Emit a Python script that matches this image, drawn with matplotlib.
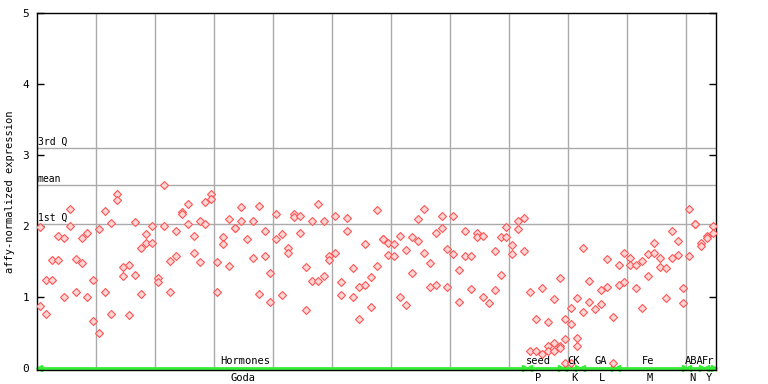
import matplotlib
matplotlib.use("Agg")
import matplotlib.pyplot as plt

# expression values per sample slot (replicates share a slot)
slots = [
    0, 0, 1, 1, 2, 2, 3, 3, 4, 4, 5, 5, 6, 6, 7, 7, 8, 8, 9, 9,
    10, 10, 11, 11, 12, 12, 13, 13, 14, 14, 15, 15, 16, 16, 17, 17, 18, 18, 19, 19,
    20, 20, 21, 21, 22, 22, 23, 23, 24, 24, 25, 25, 26, 26, 27, 27, 28, 28, 29, 29,
    30, 30, 31, 31, 32, 32, 33, 33, 34, 34, 35, 36, 36, 37, 37, 38, 38, 39, 39,
    40, 40, 41, 41, 42, 42, 43, 43, 44, 44, 45, 45, 46, 46, 47, 47, 48, 48, 49, 49,
    50, 50, 51, 51, 52, 52, 53, 53, 54, 54, 55, 55, 56, 56, 57, 57, 58, 58, 59, 59,
    60, 60, 61, 61, 62, 62, 63, 63, 64, 64, 65, 65, 66, 66, 67, 67, 68, 68, 69, 69,
    70, 70, 71, 71, 72, 72, 73, 73, 74, 74, 75, 75, 76, 77, 77, 78, 78, 79, 79,
    80, 80, 81, 81, 82, 82, 83, 83, 84, 84, 85, 85, 86, 86, 86, 87, 87, 87, 88, 88, 88,
    89, 89, 89, 90, 90, 90, 91, 91, 91, 92, 92, 93, 93, 94, 95, 95, 96, 96, 97, 97,
    98, 98, 99, 99, 100, 100, 101, 101, 102, 102, 103, 103, 104, 104, 105, 105,
    106, 106, 107, 107, 108, 108, 109, 109, 110, 110, 111, 111, 112, 112, 113, 113,
    114, 114,
]
values = [
    1.99, 0.88, 1.24, 0.76, 1.52, 1.24, 1.87, 1.52, 1.83, 1.01, 2.25, 2.00, 1.54, 1.07,
    1.83, 1.48, 1.90, 1.01, 1.25, 0.66,
    1.96, 0.49, 2.21, 1.08, 2.04, 0.76, 2.46, 2.37, 1.42, 1.30, 1.45, 0.75, 2.06, 1.31,
    1.70, 1.04, 1.89, 1.76, 2.00, 1.76,
    1.27, 1.21, 2.58, 2.00, 1.51, 1.07, 1.94, 1.58, 2.20, 2.17, 2.32, 2.03, 1.87, 1.62,
    2.08, 1.49, 2.34, 2.03, 2.45, 2.38,
    1.49, 1.07, 1.85, 1.75, 2.10, 1.44, 1.98, 1.98, 2.27, 2.07, 1.82, 2.07, 1.55, 2.28,
    1.04, 1.94, 1.58, 1.34, 0.94,
    2.18, 1.82, 1.89, 1.03, 1.70, 1.63, 2.17, 2.13, 2.14, 1.90, 1.42, 0.82, 2.07, 1.23,
    2.31, 1.23, 2.07, 1.30, 1.58, 1.52,
    2.14, 1.62, 1.21, 1.03, 2.11, 1.94, 1.41, 1.01, 1.14, 0.69, 1.75, 1.18, 1.28, 0.87,
    2.23, 1.44, 1.82, 1.82, 1.76, 1.59,
    1.75, 1.58, 1.87, 1.00, 1.66, 0.89, 1.85, 1.34, 2.10, 1.79, 2.24, 1.62, 1.48, 1.14,
    1.90, 1.18, 2.14, 1.97, 1.68, 1.14,
    2.14, 1.61, 1.38, 0.94, 1.94, 1.58, 1.58, 1.11, 1.90, 1.85, 1.87, 1.00, 0.92, 1.65,
    1.10, 1.85, 1.31, 1.99, 1.85,
    1.73, 1.61, 2.08, 1.96, 2.11, 1.65, 1.07, 0.24, 0.69, 0.24, 1.13, 0.20, 0.65, 0.32,
    0.24, 0.97, 0.35, 0.24, 1.27, 0.32, 0.29,
    0.69, 0.41, 0.08, 0.85, 0.62, 0.08, 0.99, 0.42, 0.31, 1.69, 0.79, 1.23, 0.93, 0.83,
    1.10, 0.90, 1.54, 1.14, 0.72, 0.08,
    1.46, 1.17, 1.62, 1.21, 1.56, 1.45, 1.46, 1.13, 1.51, 0.85, 1.61, 1.30, 1.76, 1.62,
    1.55, 1.42,
    1.41, 0.99, 1.94, 1.56, 1.79, 1.59, 1.13, 0.92, 2.24, 1.58, 2.03, 2.03, 1.77, 1.72,
    1.87, 1.83,
    2.00, 1.90,
]

q1, mean, q3 = 2.03, 2.58, 3.10

# group annotations along the bottom
group_names = ["Hormones", "seed", "CK", "GA", "Fe", "ABA", "Fr"]
group_pos = [34.7, 84.4, 90.3, 95.0, 103.0, 110.8, 113.2]
sub_names = ["Goda", "P", "K", "L", "M", "N", "Y"]
sub_pos = [34.4, 84.4, 90.5, 95.2, 103.3, 110.5, 113.3]
group_start = [0, 83, 89, 92, 98, 110, 113]
group_end = [82, 88, 91, 97, 109, 112, 114]

mono = "DejaVu Sans Mono"

fig = plt.figure(figsize=(7.68, 3.84), dpi=100)
ax = fig.add_axes([0.0486, 0.0365, 0.8832, 0.9289])
ax.set_xlim(-0.5, 114.45)
ax.set_ylim(-0.024, 5)

# grid
for gx in range(10, 115, 10):
    ax.axvline(gx - 0.5, color="#aaaaaa", lw=1, zorder=1)
for gy in (q1, mean, q3):
    ax.axhline(gy, color="#aaaaaa", lw=1, zorder=1)

ax.text(-0.4, q3 + 0.02, "3rd Q", fontsize=7, family=mono, va="bottom", ha="left")
ax.text(-0.4, mean + 0.02, "mean", fontsize=7, family=mono, va="bottom", ha="left")
ax.text(-0.4, q1 + 0.02, "1st Q", fontsize=7, family=mono, va="bottom", ha="left")

ax.plot(slots, values, linestyle="none", marker="D", markersize=3.6,
        markerfacecolor="#ffd6d6", markeredgecolor="#ff5555",
        markeredgewidth=0.8, zorder=3)

# green group bar with arrow heads
ax.axhline(0, color="#33ee33", lw=2, zorder=2)
for s, e in zip(group_start, group_end):
    ax.plot([s - 0.2], [0], marker="<", color="#33ee33", markersize=4.5, zorder=2,
            clip_on=False)
    ax.plot([e + 0.2], [0], marker=">", color="#33ee33", markersize=4.5, zorder=2,
            clip_on=False)

for name, p in zip(group_names, group_pos):
    ax.text(p, 0.03, name, fontsize=7.5, family=mono, ha="center", va="bottom")
for name, p in zip(sub_names, sub_pos):
    ax.text(p, -0.07, name, fontsize=7.5, family=mono, ha="center", va="top",
            clip_on=False)

ax.set_yticks([0, 1, 2, 3, 4, 5])
ax.set_yticklabels(["0", "1", "2", "3", "4", "5"], family=mono, fontsize=8)
ax.set_xticks([])
ax.tick_params(axis="y", direction="in", length=5, width=1, right=True, pad=6)
for sp in ax.spines.values():
    sp.set_color("black")
    sp.set_linewidth(1)

fig.text(0.013, 0.5, "affy-normalized expression", rotation=90, fontsize=7.5,
         family=mono, ha="center", va="center")

fig.savefig("out.png", dpi=100)
